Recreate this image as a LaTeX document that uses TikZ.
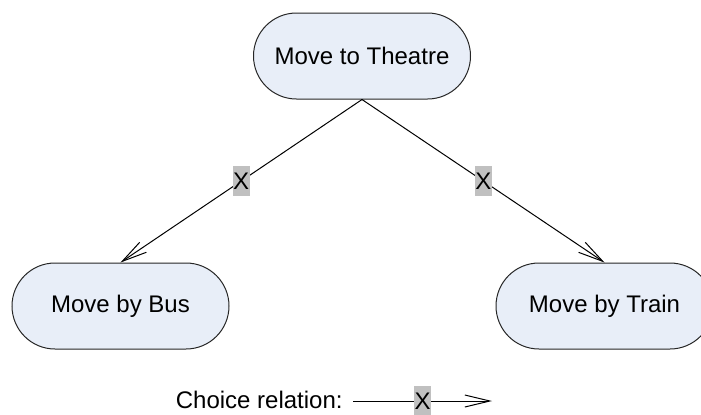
\documentclass[tikz,border=0pt]{standalone}
\usepackage{fontspec}
\setmainfont{Liberation Sans}
\usetikzlibrary{arrows.meta}
\definecolor{boxfill}{HTML}{E8EEF8}
\definecolor{tagfill}{HTML}{C0C0C0}
\begin{document}
\begin{tikzpicture}[x=0.5pt,y=-0.5pt,
  font=\fontsize{12}{14}\selectfont,
  activity/.style={draw=black!85, line width=0.5pt, fill=boxfill,
    rounded corners=21.5pt, minimum width=108.5pt, minimum height=43pt,
    inner sep=0pt},
  choicetag/.style={fill=tagfill, inner xsep=0.3pt, inner ysep=0pt,
    minimum height=15pt, text height=8.6pt, text depth=0pt},
  choice/.style={line width=0.5pt,
    -{Straight Barb[length=12.5pt,width=6pt,line width=0.5pt]}}]
  \useasboundingbox (0,0) rectangle (701,414);

  % activities
  \node[activity] (theatre) at (362,56)    {Move to Theatre};
  \node[activity] (bus)     at (120.5,306) {Move by Bus};
  \node[activity] (train)   at (604.5,306) {Move by Train};

  % choice relations
  \draw[choice] (theatre.south) -- node[choicetag] {X} (bus.north);
  \draw[choice] (theatre.south) -- node[choicetag] {X} (train.north);

  % legend
  \node[anchor=east, inner sep=0pt] (legend) at (343,400) {Choice relation:};
  \coordinate (lstart) at (353,401);
  \coordinate (lend)   at (492,401);
  \draw[choice] (lstart) -- node[choicetag] {X} (lend);
\end{tikzpicture}
\end{document}
